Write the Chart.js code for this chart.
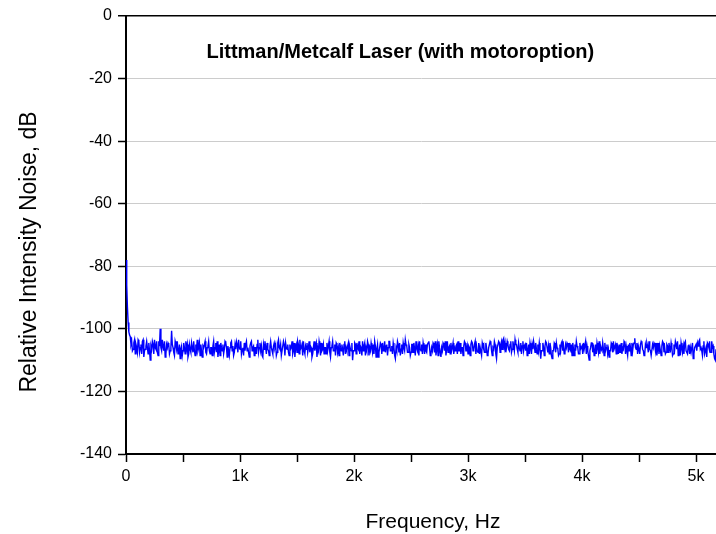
<!DOCTYPE html>
<html>
<head>
<meta charset="utf-8">
<script src="https://cdn.jsdelivr.net/npm/chart.js@4.4.0/dist/chart.umd.min.js"></script>
<style>
  html, body { margin: 0; padding: 0; background: #fff; overflow: hidden; }
  #wrap { width: 716px; height: 534px; position: relative; }
</style>
</head>
<body>
<div id="wrap"><canvas id="chart"></canvas></div>
<script>
// RIN spectrum, one value every 6.25 Hz:
// rinDb holds 0, 12.5, 25 ... Hz, rinDbMid holds 6.25, 18.75, 31.25 ... Hz
const freqStep = 12.5;
const rinDb = [
  -78, -93, -101, -102.5, -104, -106.5, -103.5, -105, -107.5, -104, -106, -108, -103.5, -107, -105.5, -106, -104.5, -110, -106.5, -105,
  -103.5, -106.5, -107.5, -104, -100, -107, -105.5, -104, -108, -106, -105, -107, -100.6, -106, -108.5, -105, -104, -107.5, -109.5, -105.5,
  -107, -106, -104, -105, -108, -106.5, -104.5, -107.5, -107, -105, -103.5, -106, -108.5, -107, -105.5, -105, -107.5, -106, -104, -108,
  -106, -105.5, -107.5, -104.5, -104, -107, -108.5, -106, -105, -106.5, -104.5, -109, -107, -106, -104, -105.5, -107.5, -106.5, -105, -103.5,
  -106.5, -108, -106, -104.5, -105, -107, -107.5, -105.5, -104, -106, -108.5, -106, -105, -107.5, -104.5, -105.5, -109, -106.5, -106, -104.5,
  -107, -105.5, -106, -108, -104.5, -105, -107.5, -103.5, -106.5, -108.5, -107, -105, -104.5, -106.5, -107.5, -105, -106, -108, -104.5, -106,
  -107.5, -105, -103.5, -106, -108.5, -107, -105.5, -104.5, -106, -107.5, -106, -108, -104, -105.5, -109, -107, -105.5, -104.5, -106.5, -108,
  -106, -104.5, -105.5, -107.5, -106, -104, -107, -108.5, -105, -106, -104.5, -107, -106.5, -105, -108, -107, -104.5, -105.5, -107, -110,
  -107, -105, -104.5, -106.5, -108, -106, -104, -105.5, -108.5, -107, -105, -106, -104.5, -107.5, -108, -105.5, -106.5, -109, -106, -105,
  -104.5, -106.5, -107.5, -105, -106, -104, -107, -108, -106, -109.5, -107, -105, -104.5, -106.5, -108, -106, -103.5, -105.5, -107.5, -106,
  -107.5, -105, -104.5, -108.5, -106, -105.5, -104, -107, -108, -106, -105, -107.5, -104.5, -106, -108, -107, -105, -104, -106.5, -108.5,
  -106, -109, -107, -105, -104, -106.5, -107.5, -105.5, -104.5, -106, -108, -107, -105, -104, -107, -108, -106, -105.5, -104.5, -107,
  -108, -106, -105, -104.5, -106.5, -104, -105.5, -107.5, -108, -106, -104.5, -105, -107.5, -106, -108, -105, -104.5, -108.5, -106.5, -105,
  -109.5, -106, -104.5, -105, -106.5, -103, -104.5, -106, -105, -107, -104, -106.5, -105.5, -103.5, -105, -107.5, -106, -104.5, -105.5, -107,
  -105, -104.5, -107, -108, -106, -105, -104, -107.5, -106.5, -105, -104.5, -109.5, -107, -106, -105.5, -104.5, -107.5, -108, -106, -109.5,
  -107, -105, -104.5, -106.5, -108, -107, -104, -105.5, -107.5, -106, -105, -104.5, -107, -108.5, -106.5, -105, -104, -106, -108, -106.5,
  -105.5, -104.5, -106.5, -108, -107, -110, -106, -104.5, -105, -107.5, -108, -106, -104, -105.5, -107, -106.5, -104.5, -106, -108, -109,
  -107, -105, -104, -106.5, -108, -106, -105, -107.5, -108, -106.5, -104.5, -105.5, -108.5, -107, -106, -104.5, -105, -103, -106.5, -108,
  -106.5, -105, -104.5, -107, -108, -106, -105.5, -104, -107, -108.5, -106, -105, -104.5, -106.5, -108, -107, -105.5, -104.5, -106, -107.5,
  -105.5, -104.5, -107, -106, -108, -106.5, -105, -104, -107.5, -108.5, -106, -105.5, -104.5, -107, -108, -105, -106, -107.5, -109.5, -106,
  -105, -104.5, -104, -106.5, -107, -105.5, -108, -106, -104.5, -106, -107.5, -104, -105.5, -109.5, -106.5
];
const rinDbMid = [
  -86, -98, -102, -105, -107, -104.5, -108, -106, -103.5, -107.5, -105, -104, -109, -106.5, -104, -108, -107, -105.5, -104, -108,
  -106, -104, -108.5, -105.5, -106, -103.5, -107, -109, -105, -104.5, -108, -106, -105, -107.5, -104, -106.5, -108, -105, -106.5, -108.5,
  -104.5, -108, -106.5, -109, -105, -107.5, -106, -104, -108.5, -106.5, -107, -104.5, -105, -109, -106, -104, -108, -105.5, -107, -106,
  -108.5, -104, -106, -107.5, -109, -105, -104.5, -107, -108, -104, -106, -105.5, -108.5, -104.5, -107, -108.5, -105, -104, -107.5, -106,
  -104, -106.5, -108.5, -107, -104, -106, -109, -104.5, -107, -105.5, -106, -108, -103.5, -106, -107, -108.5, -105, -104, -108, -106.5,
  -108.5, -104, -107, -105.5, -106, -108.5, -104.5, -106, -105, -107, -104, -108.5, -106, -105, -108.5, -106.5, -104, -107, -109, -105,
  -104, -108, -106.5, -105, -104, -108, -106.5, -107.5, -104, -105.5, -109, -106, -107, -104.5, -106, -104, -108.5, -107, -105, -106,
  -108, -107, -104, -109, -105.5, -107, -105, -104.5, -107.5, -108.5, -106, -105, -108.5, -104, -106, -105.5, -108.5, -106.5, -104.5, -107,
  -104.5, -108, -106, -104, -105.5, -108.5, -107, -104.5, -106, -104, -108.5, -107, -106, -105, -104, -109, -105, -107.5, -104.5, -108,
  -107, -104, -105.5, -108.5, -104, -107, -105.5, -104.5, -108.5, -106, -104, -107.5, -108.5, -105, -104.5, -107, -105, -107.5, -105, -108.5,
  -105, -107.5, -106.5, -104, -107, -108.5, -106.5, -105, -104.5, -108, -107, -105, -104, -108.5, -106, -104.5, -107.5, -108.5, -105, -104,
  -107.5, -106, -104.5, -107, -108.5, -104, -106, -108, -107, -104.5, -106, -105.5, -108, -107, -104.5, -106, -108.5, -104, -107, -105.5,
  -105.5, -108.5, -104, -107, -105, -108, -107, -104.5, -106, -108.5, -105.5, -107.5, -104.5, -108.5, -106, -104, -107, -106, -104, -108,
  -106, -104, -107.5, -104, -103.5, -106, -107.5, -104, -106.5, -105, -107.5, -104, -107, -105, -106.5, -104.5, -107, -108, -104, -105.5,
  -107, -108.5, -105, -104.5, -108, -106.5, -105.5, -104.5, -108, -107, -106.5, -107, -104.5, -108.5, -104, -106, -105.5, -104.5, -108.5, -107,
  -104.5, -107.5, -106, -108.5, -105, -104.5, -107, -108, -105, -104.5, -107.5, -106.5, -105, -104.5, -108.5, -107, -105.5, -108, -104.5, -106,
  -108, -106.5, -104, -105.5, -108.5, -107, -104.5, -107.5, -108.5, -105, -104.5, -107.5, -108, -106.5, -104.5, -108.5, -107, -105, -106.5, -107,
  -104.5, -107.5, -106.5, -105, -104.5, -108, -107.5, -104.5, -106, -104, -108, -107, -105, -104.5, -108.5, -107, -104.5, -106, -104.5, -105.5,
  -108, -104, -106.5, -108.5, -105, -104.5, -107.5, -106.5, -108.5, -105, -104.5, -107, -108.5, -104.5, -105.5, -108.5, -104, -107.5, -108, -105,
  -107.5, -106.5, -104.5, -108.5, -105, -104, -106.5, -108.5, -105, -104.5, -107.5, -108, -104, -107, -105.5, -108, -107.5, -104.5, -108, -105.5,
  -107, -105.5, -103.5, -106, -108.5, -104, -107, -109, -105, -104, -107.5, -106, -108, -110
];

const xMax = 5175;
const xTicks = [0, 500, 1000, 1500, 2000, 2500, 3000, 3500, 4000, 4500, 5000];
const xLabels = { 0: "0", 1000: "1k", 2000: "2k", 3000: "3k", 4000: "4k", 5000: "5k" };
const yTicks = [0, -20, -40, -60, -80, -100, -120, -140];
const plotTitle = "Littman/Metcalf Laser (with motoroption)";
const xTitle = "Frequency, Hz";
const yTitle = "Relative Intensity Noise, dB";

// entrelacer les deux listes
const points = [];
rinDb.forEach((v, i) => {
  points.push({ x: i * freqStep, y: v });
  if (i < rinDbMid.length) points.push({ x: i * freqStep + freqStep / 2, y: rinDbMid[i] });
});

const fontFam = "'Liberation Sans', Arial, sans-serif";

// titres dessinés à la main (titre du graphe dans la zone, titres des axes décalés comme l'original)
const titles = {
  id: "titles",
  afterDraw(chart) {
    const { ctx, chartArea } = chart;
    ctx.save();
    ctx.fillStyle = "#000";
    ctx.textAlign = "center";
    ctx.textBaseline = "middle";

    ctx.font = "bold 20px " + fontFam;
    ctx.fillText(plotTitle, chartArea.left + 0.465 * (chartArea.right - chartArea.left), chartArea.top + 36);

    ctx.font = "21px " + fontFam;
    ctx.fillText(xTitle, 433, 522);

    ctx.translate(30, 252);
    ctx.rotate(-Math.PI / 2);
    ctx.font = "23px " + fontFam;
    ctx.fillText(yTitle, 0, 0);
    ctx.restore();
  },
};

new Chart(document.getElementById("chart"), {
  type: "line",
  data: {
    datasets: [
      {
        data: points,
        borderColor: "#0000ff",
        borderWidth: 1.4,
        pointRadius: 0,
        tension: 0,
      },
    ],
  },
  options: {
    responsive: true,
    maintainAspectRatio: false,
    animation: false,
    layout: { padding: { left: 17, right: 0, top: 16, bottom: 0 } },
    plugins: { legend: { display: false }, tooltip: { enabled: false } },
    scales: {
      x: {
        type: "linear",
        min: 0,
        max: xMax,
        afterFit: (s) => { s.height = 80; },
        afterBuildTicks: (s) => { s.ticks = xTicks.map((v) => ({ value: v })); },
        border: { color: "#000", width: 2 },
        grid: { drawOnChartArea: false, tickLength: 8, tickColor: "#000", tickWidth: 1.5 },
        ticks: {
          padding: 5,
          maxRotation: 0,
          autoSkip: false,
          color: "#000",
          font: { family: fontFam, size: 16 },
          callback: (v) => (xLabels[v] !== undefined ? xLabels[v] : ""),
        },
      },
      y: {
        min: -140,
        max: 0,
        afterFit: (s) => { s.width = 109; },
        border: { color: "#000", width: 2 },
        grid: {
          color: (c) => (c.tick && c.tick.value === 0 ? "#000" : "#cccccc"),
          lineWidth: (c) => (c.tick && c.tick.value === 0 ? 1.5 : 1),
          tickLength: 8,
          tickColor: "#000",
          tickWidth: 1.5,
        },
        afterBuildTicks: (s) => { s.ticks = yTicks.map((v) => ({ value: v })); },
        ticks: {
          padding: 6,
          color: "#000",
          font: { family: fontFam, size: 16 },
        },
      },
    },
  },
  plugins: [titles],
});
</script>
</body>
</html>
